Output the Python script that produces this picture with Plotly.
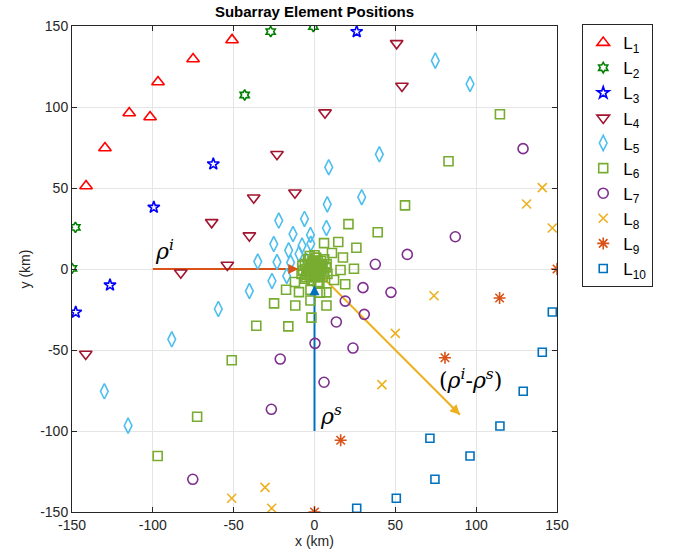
import plotly.graph_objects as go

# ---- data (km) ----
L1_x = [-51.0, -75.1, -96.8, -114.6, -101.7, -129.6, -141.3]
L1_y = [141.4, 129.6, 115.4, 96.3, 93.8, 74.7, 51.2]

L2_x = [-27.1, -0.7, -43.2, -147.9, -150.0]
L2_y = [146.5, 149.6, 107.4, 25.7, 0.4]

L3_x = [26.1, -62.6, -99.4, -126.5, -147.7]
L3_y = [146.5, 64.8, 38.1, -9.9, -26.7]

L4_x = [50.8, 54.1, 6.5, -23.2, -12.1, -37.6, -63.6, -40.3, -53.9, -82.7, -141.5]
L4_y = [139.3, 113.0, 96.5, 70.8, 47.1, 44.0, 28.8, 20.6, 2.5, -2.3, -52.5]

L5_x = [74.7, 96.2, 40.1, 8.8, 29.2, 7.9, -22.1, -6.2, 7.4, -13.3, -2.5, -25.2, -7.7,
        -16.0, -2.3, -35.1, -23.2, -14.8, -9.6, -26.3, -17.2, -40.3, -59.5, -88.3,
        -130.0, -115.3, -5.0, -3.0]
L5_y = [128.6, 114.2, 70.8, 62.8, 44.3, 39.9, 29.9, 30.9, 25.3, 21.6, 21.0, 15.4, 14.4,
        11.5, 15.6, 4.6, 4.3, 4.0, 9.3, -7.4, -4.3, -13.6, -24.7, -43.4,
        -75.5, -96.7, 5.0, 1.0]

L6_x = [114.7, 82.9, 56.0, 21.0, 39.1, 5.9, 14.7, 25.9, 10.8, 17.6, 24.4, 16.1, 12.1,
        19.0, -12.1, -17.6, -9.6, -2.5, 7.4, -25.0, -11.9, 7.4, -2.5, -1.9, -36.0,
        -16.2, -51.2, -72.6, -97.0, 3.4,
        0.0, 2.0, -2.0, 1.0, -1.0, 3.0, -3.0, 4.0, -4.0, 2.0, -1.0, 5.0, -5.0, 0.0,
        3.0, -3.0, 6.0, -6.0, 1.0, -2.0, 7.0, -7.0, 4.0, -4.0, 5.0, -5.0, 7.5, -7.5,
        2.0, 6.0, -6.0, 0.0, 8.0, -8.0, 3.0, -3.0, 1.0, -1.0, 2.5, -2.5,
        0.5, -0.5, 1.5, -1.5, 3.5, -3.5, 4.5, -4.5, 0.0, 0.0]
L6_y = [95.5, 66.5, 39.3, 27.7, 22.7, 16.0, 16.7, 13.1, 9.9, 7.1, 0.2, -0.6, -6.8,
        -9.4, -8.0, -12.8, -14.3, -12.9, -14.4, -21.2, -22.5, -22.5, -19.4, -30.0, -35.0,
        -35.4, -56.3, -91.2, -115.4, -14.6,
        0.0, 1.0, 1.0, -2.0, -3.0, 3.0, 2.0, -1.0, -2.0, 5.0, 5.0, 2.0, 0.0, -5.0,
        -4.0, -4.0, -2.0, 3.0, 7.0, -7.0, 1.0, -1.0, 5.0, 6.0, -5.0, -5.0, 3.0, 2.0,
        -8.0, 6.0, -6.0, 8.5, -3.0, -3.0, -8.5, 8.0, 2.0, -1.0, -1.0, 0.5,
        3.5, -4.5, -4.0, 4.0, 0.5, -1.5, 2.5, -3.5, 2.0, -2.0]

L7_x = [129.0, 87.1, 57.4, 37.6, 30.0, 47.3, 19.0, 30.8, 13.5, 0.3, 23.8, 5.9, -21.2, -26.7, -75.3]
L7_y = [74.3, 19.9, 9.0, 2.9, -11.5, -14.4, -19.8, -28.0, -32.7, -45.9, -48.8, -69.9, -55.6, -86.6, -129.8]

L8_x = [140.9, 131.2, 147.1, 73.9, 50.0, 41.7, -51.2, -30.6, -26.5]
L8_y = [50.2, 40.1, 25.3, -16.5, -39.7, -71.4, -141.5, -134.8, -147.7]

L9_x = [150.0, 114.5, 80.7, 16.2, 0.0]
L9_y = [0.0, -17.9, -54.8, -105.7, -150.0]

L10_x = [147.1, 140.9, 129.1, 114.7, 71.4, 96.2, 74.5, 50.6, 26.1]
L10_y = [-26.5, -51.4, -75.5, -96.9, -104.5, -115.4, -129.8, -141.5, -147.7]

ticks = [-150, -100, -50, 0, 50, 100, 150]

# vectors (quiver, autoscale 0.9)
rho_i = (-100, 0)
rho_s = (0, -100)
scale = 0.9

series = [
    ("L<sub>1</sub>", L1_x, L1_y, "triangle-up-open", "#FF0000", 11),
    ("L<sub>2</sub>", L2_x, L2_y, "hexagram-open", "#008000", 8),
    ("L<sub>3</sub>", L3_x, L3_y, "star-open", "#0000FF", 9),
    ("L<sub>4</sub>", L4_x, L4_y, "triangle-down-open", "#A2142F", 11),
    ("L<sub>5</sub>", L5_x, L5_y, "diamond-tall-open", "#4DBEEE", 11),
    ("L<sub>6</sub>", L6_x, L6_y, "square-open", "#77AC30", 9),
    ("L<sub>7</sub>", L7_x, L7_y, "circle-open", "#7E2F8E", 10),
    ("L<sub>8</sub>", L8_x, L8_y, "x-thin-open", "#EDB120", 9),
    ("L<sub>9</sub>", L9_x, L9_y, "asterisk-open", "#D95319", 10),
    ("L<sub>10</sub>", L10_x, L10_y, "square-open", "#0072BD", 8),
]

fig = go.Figure()

# arrow shafts (under markers)
fig.add_trace(go.Scatter(x=[rho_i[0], rho_i[0] * (1 - scale)], y=[0, 0], mode="lines",
                         line=dict(color="#D95319", width=2), showlegend=False, hoverinfo="skip"))
fig.add_trace(go.Scatter(x=[0, 0], y=[rho_s[1], rho_s[1] * (1 - scale)], mode="lines",
                         line=dict(color="#0072BD", width=2), showlegend=False, hoverinfo="skip"))
fig.add_trace(go.Scatter(x=[0, (rho_i[1] - rho_s[1]) * scale],
                         y=[0, rho_s[1] * scale], mode="lines",
                         line=dict(color="#EDB120", width=2), showlegend=False, hoverinfo="skip"))

for name, xs, ys, sym, col, sz in series:
    fig.add_trace(go.Scatter(
        x=xs, y=ys, mode="markers", name=name,
        marker=dict(symbol=sym, color=col, size=sz, line=dict(color=col, width=1.6)),
    ))

# arrow heads
def head(x0, y0, x1, y1, col):
    fig.add_annotation(x=x1, y=y1, ax=x0, ay=y0, xref="x", yref="y", axref="x", ayref="y",
                       showarrow=True, arrowhead=2, arrowsize=1, arrowwidth=2,
                       arrowcolor=col, text="")

head(rho_i[0] * (1 - scale) - 6, 0, rho_i[0] * (1 - scale), 0, "#D95319")
head(0, rho_s[1] * (1 - scale) - 6, 0, rho_s[1] * (1 - scale), "#0072BD")
head(100 * scale - 6, -100 * scale + 6, 100 * scale, -100 * scale, "#EDB120")

lab_font = dict(family="DejaVu Serif", size=22, color="#000000")
fig.add_annotation(x=-100, y=2, text="<i>ρ</i><sup><i>i</i></sup>", showarrow=False,
                   xanchor="left", yanchor="bottom", font=lab_font)
fig.add_annotation(x=2, y=-100, text="<i>ρ</i><sup><i>s</i></sup>", showarrow=False,
                   xanchor="left", yanchor="bottom", font=lab_font)
fig.add_annotation(x=76, y=-58, text="(<i>ρ</i><sup><i>i</i></sup>-<i>ρ</i><sup><i>s</i></sup>)",
                   showarrow=False, xanchor="left", yanchor="top", font=lab_font)

axis_common = dict(
    range=[-150, 150], tickvals=ticks, ticktext=[str(t) for t in ticks],
    showgrid=True, gridcolor="#E5E5E5", gridwidth=1,
    zeroline=False, showline=True, linecolor="#262626", linewidth=1, mirror="ticks",
    ticks="inside", ticklen=5, tickcolor="#262626",
    tickfont=dict(family="Liberation Sans", size=14, color="#262626"),
)

fig.update_layout(
    width=673, height=560,
    margin=dict(l=72, r=116, t=26, b=48),
    plot_bgcolor="white", paper_bgcolor="white",
    title=dict(text="<b>Subarray Element Positions</b>", x=(72 + 485 / 2) / 673, xanchor="center",
               y=1 - 12 / 560, yanchor="middle",
               font=dict(family="Liberation Sans", size=15, color="#000000")),
    xaxis=dict(axis_common, title=dict(text="x (km)", standoff=4,
                                       font=dict(family="Liberation Sans", size=14, color="#262626"))),
    yaxis=dict(axis_common, title=dict(text="y (km)", standoff=6,
                                       font=dict(family="Liberation Sans", size=14, color="#262626"))),
    legend=dict(x=1.052, y=1.004, xanchor="left", yanchor="top",
                bordercolor="#262626", borderwidth=1, bgcolor="white",
                font=dict(family="Liberation Sans", size=17, color="#000000"),
                tracegroupgap=0),
    showlegend=True,
)

fig.write_html("out.html")
